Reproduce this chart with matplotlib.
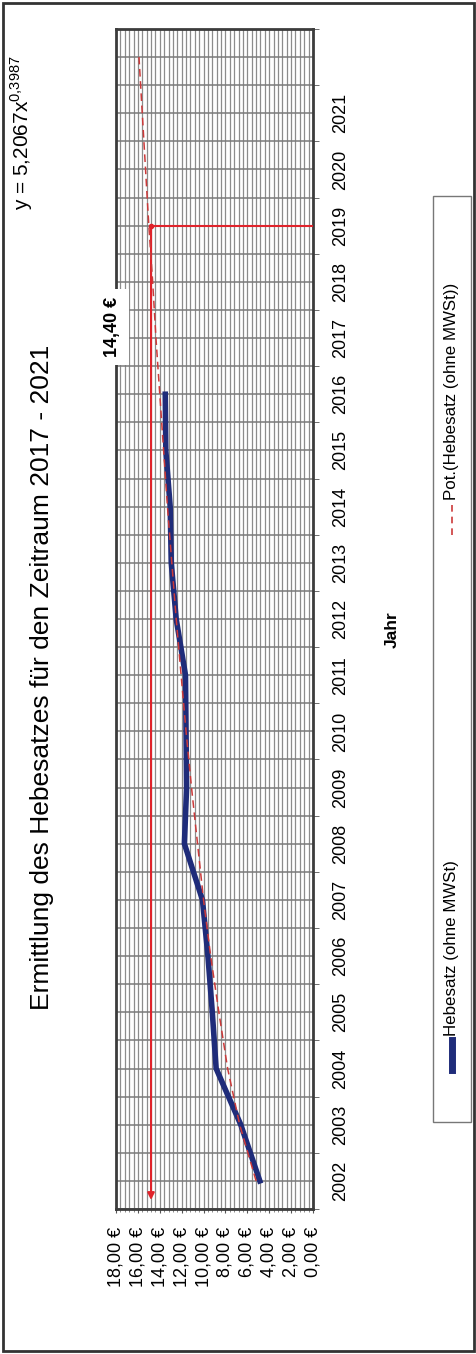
"""
Hebesatz chart (scanned page, rotated 90 degrees)
"""

import matplotlib
matplotlib.use('Agg')  # Use non-interactive backend
import matplotlib.pyplot as plt
from matplotlib.patches import Rectangle
from matplotlib.lines import Line2D
from matplotlib.ticker import MultipleLocator, FixedLocator

plt.rcParams['font.family'] = ['Liberation Sans', 'DejaVu Sans']

# data
years = ['2002', '2003', '2004', '2005', '2006', '2007', '2008', '2009', '2010',
         '2011', '2012', '2013', '2014', '2015', '2016', '2017', '2018', '2019',
         '2020', '2021', '']
hebesatz = [4.86, 6.6, 8.85, 9.2, 9.6, 10.1, 11.75, 11.55, 11.6, 11.65,
            12.5, 12.95, 13.05, 13.45, 13.5]
trend = [5.2, 6.7, 7.8, 8.6, 9.35, 10.0, 10.55, 11.1, 11.6, 12.05, 12.5,
         12.9, 13.3, 13.65, 14.0, 14.35, 14.65, 15.0, 15.3, 15.6, 15.9]
value_ticks = [0, 2, 4, 6, 8, 10, 12, 14, 16, 18]
marker_year = '2019'
marker_value = 14.8
marker_label = '14,40 €'

title = 'Ermittlung des Hebesatzes für den Zeitraum 2017 - 2021'
equation = r'y = 5,2067x$^{\mathregular{0{,}3987}}$'

W, H = 477, 1354


def fx(px):
    return px / W


def fy(py):
    return 1 - py / H


BLUE = '#1f2c7a'
RED = '#e0232b'
TREND = '#cc3a3a'
GRID = '#8c8c8c'

fig = plt.figure(figsize=(W / 100, H / 100), dpi=100)
ax = fig.add_axes([fx(116), fy(1209), (313 - 116) / W, (1209 - 29) / H])

idx = list(range(len(years)))
ax.plot(hebesatz, idx[:len(hebesatz)], color=BLUE, lw=4, zorder=4,
        solid_joinstyle='round')
ax.plot(trend, idx, color=TREND, lw=1.1, ls=(0, (5, 3)), zorder=5)

# target marker: value line with arrow to the axis, drop line at 2019
my = years.index(marker_year)
ax.plot([marker_value, 0], [my, my], color=RED, lw=1.5, zorder=3)
ax.annotate('', xy=(marker_value, -0.34), xytext=(marker_value, my),
            arrowprops=dict(arrowstyle='-|>', color=RED, lw=1.5,
                            mutation_scale=10, shrinkA=0, shrinkB=0),
            zorder=3)
ax.plot([marker_value], [my], 'o', color=RED, ms=3, zorder=3)
ax.text(18.3, 15.2, marker_label, rotation=90, ha='center', va='center',
        fontsize=13, fontweight='bold', zorder=6, clip_on=False,
        bbox=dict(boxstyle='square,pad=0.45', fc='white', ec='none'))

ax.set_xlim(18, 0)
ax.set_ylim(-0.5, len(years) - 0.5)

# value axis (bottom)
ax.set_xticks(value_ticks)
ax.set_xticklabels([f'{v:.2f} €'.replace('.', ',') for v in value_ticks],
                   rotation=90, fontsize=13)
ax.xaxis.set_minor_locator(MultipleLocator(0.4))
ax.tick_params(axis='x', which='major', length=3, pad=10, color='#555555')
ax.tick_params(axis='x', which='minor', length=2, color='#777777')

# category axis (right)
ax.yaxis.tick_right()
ax.set_yticks(idx)
ax.set_yticklabels(years, rotation=90, fontsize=13, va='center')
ax.yaxis.set_minor_locator(FixedLocator([i - 0.5 for i in range(len(years) + 1)]))
ax.tick_params(axis='y', which='major', length=0, pad=14)
ax.tick_params(axis='y', which='minor', length=4, color='#555555')

ax.grid(True, which='both', axis='x', color=GRID, lw=0.9)
ax.grid(True, which='both', axis='y', color='#7a7a7a', lw=1.1)
ax.set_axisbelow(True)
for s in ax.spines.values():
    s.set_color('#3c3c3c')
    s.set_linewidth(2)

fig.text(fx(42), fy(677), title, rotation=90, ha='center', va='center',
         fontsize=19)
fig.text(fx(392), fy(630), 'Jahr', rotation=90, ha='center', va='center',
         fontsize=12.5, fontweight='bold')
fig.text(fx(22), fy(133), equation, rotation=90, ha='center', va='center',
         fontsize=15)

# legend box drawn by hand (rotated layout)
fig.add_artist(Rectangle((fx(433), fy(1122)), (471 - 433) / W, (1122 - 196) / H,
                         transform=fig.transFigure, fc='white', ec='#777777', lw=1))
fig.add_artist(Line2D([fx(452), fx(452)], [fy(1070), fy(1040)],
                      transform=fig.transFigure, color=BLUE, lw=5))
fig.text(fx(452), fy(1036), 'Hebesatz (ohne MWSt)', rotation=90,
         rotation_mode='anchor', ha='left', va='center', fontsize=12.2)
fig.add_artist(Line2D([fx(452), fx(452)], [fy(535), fy(505)],
                      transform=fig.transFigure, color=TREND, lw=1.2,
                      ls=(0, (4, 3))))
fig.text(fx(452), fy(500), 'Pot.(Hebesatz (ohne MWSt))', rotation=90,
         rotation_mode='anchor', ha='left', va='center', fontsize=12.2)

# outer frame of the scanned chart
fig.add_artist(Rectangle((fx(3), fy(1351)), (474 - 3) / W, (1351 - 3) / H,
                         transform=fig.transFigure, fill=False,
                         ec='#333333', lw=2))

fig.savefig('out.png', dpi=100)
plt.close(fig)
